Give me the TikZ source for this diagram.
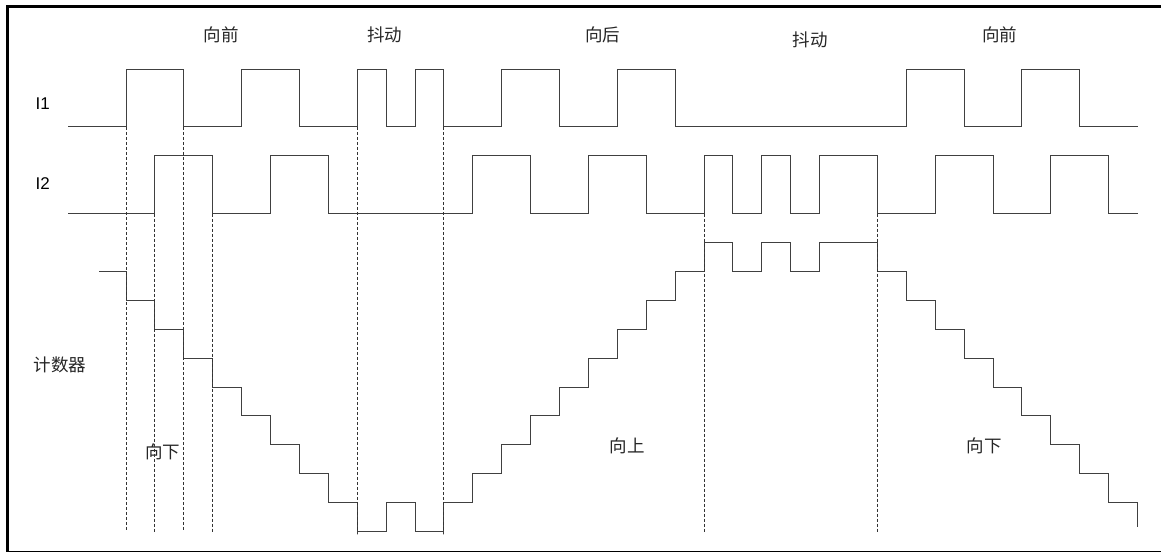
\documentclass[tikz,border=0pt]{standalone}
\usepackage{fontspec}
\setmainfont{Liberation Sans}
\newfontfamily\cjk{Noto Sans CJK SC}
\usepackage{tikz}
\usetikzlibrary{calc}

\tikzset{
  wave/.style = {line width=1pt, draw=black!75, line join=miter},
  guide/.style = {line width=0.9pt, draw=black!80, dash pattern=on 3pt off 2pt},
  sig/.style = {inner sep=0pt, anchor=west, font=\fontsize{17}{17}\selectfont},
  tag/.style = {inner sep=0pt, font=\cjk\fontsize{17.5}{18}\selectfont, text=black!85}
}

\begin{document}
\begin{tikzpicture}[x=28.9pt, y=28.9pt]
\useasboundingbox (-4.360,-14.706) rectangle (35.813,4.394);
    % Frame
\draw[line width=3pt] (36.2,4.170) -- (-4.100,4.170) -- (-4.100,-14.72) -- (36.2,-14.72);

\node[sig] (i1) at (-3.13,0.80) {I1};
\node[sig] (i2) at (-3.13,-1.97) {I2};
\node[tag] (cnt) at (-2.28,-8.24) {计数器};



\node[tag] (0) at (3.29,3.20) {向前};
\node[tag] (1) at (8.96,3.20) {抖动};
\node[tag] (2) at (16.50,3.18) {向后};
\node[tag] (3) at (23.67,3.03) {抖动};
\node[tag] (4) at (30.24,3.20) {向前};

\node[tag] (5) at (1.28,-11.25) {向下};
\node[tag] (6) at (17.34,-11.04) {向上};
\node[tag] (7) at (29.69,-11.04) {向下};



    % I1
\draw[wave] (-2,0) -- (0,0) -- (0,2) -- (2,2) -- (2,0) -- (4,0) -- (4,2) -- (6,2) -- (6,0)
  -- (8,0) -- (8,2) -- (9,2) -- (9,0) -- (10,0) -- (10,2) -- (11,2) -- (11,0)
  -- (13,0) -- (13,2) -- (15,2) -- (15,0) -- (17,0) -- (17,2) -- (19,2) -- (19,0)
  -- (27,0) -- (27,2) -- (29,2) -- (29,0) -- (31,0) -- (31,2) -- (33,2) -- (33,0) -- (35,0);

    % I2
\draw[wave] (-2,-3) -- (1,-3) -- (1,-1) -- (3,-1) -- (3,-3) -- (5,-3) -- (5,-1) -- (7,-1) -- (7,-3)
  -- (12,-3) -- (12,-1) -- (14,-1) -- (14,-3) -- (16,-3) -- (16,-1) -- (18,-1) -- (18,-3)
  -- (20,-3) -- (20,-1) -- (21,-1) -- (21,-3) -- (22,-3) -- (22,-1) -- (23,-1) -- (23,-3)
  -- (24,-3) -- (24,-1) -- (26,-1) -- (26,-3) -- (28,-3) -- (28,-1) -- (30,-1) -- (30,-3)
  -- (32,-3) -- (32,-1) -- (34,-1) -- (34,-3) -- (35,-3);

    % counter
\draw[wave] (-0.93,-5) -- (0,-5) -- (0,-6) -- (1,-6) -- (1,-7) -- (2,-7) -- (2,-8) -- (3,-8)
  -- (3,-9) -- (4,-9) -- (4,-10) -- (5,-10) -- (5,-11) -- (6,-11) -- (6,-12) -- (7,-12)
  -- (7,-13) -- (8,-13) -- (8,-14.1) -- (8,-14) -- (9,-14) -- (9,-13) -- (10,-13) -- (10,-14)
  -- (11,-14) -- (11,-14.1) -- (11,-13) -- (12,-13) -- (12,-12) -- (13,-12) -- (13,-11) -- (14,-11)
  -- (14,-10) -- (15,-10) -- (15,-9) -- (16,-9) -- (16,-8) -- (17,-8) -- (17,-7) -- (18,-7)
  -- (18,-6) -- (19,-6) -- (19,-5) -- (20,-5) -- (20,-4) -- (21,-4) -- (21,-5) -- (22,-5)
  -- (22,-4) -- (23,-4) -- (23,-5) -- (24,-5) -- (24,-4) -- (26,-4) -- (26,-5) -- (27,-5)
  -- (27,-6) -- (28,-6) -- (28,-7) -- (29,-7) -- (29,-8) -- (30,-8) -- (30,-9) -- (31,-9)
  -- (31,-10) -- (32,-10) -- (32,-11) -- (33,-11) -- (33,-12) -- (34,-12) -- (34,-13)
  -- (35,-13) -- (35,-13.84);



\draw[guide] (0,0) -- (0,-14);
\draw[guide] (2,0) -- (2,-14);
\draw[guide] (8,0) -- (8,-14);
\draw[guide] (11,0) -- (11,-14);

\draw[guide] (1,-3) -- (1,-14);
\draw[guide] (3,-3) -- (3,-14);
\draw[guide] (20,-3) -- (20,-14);
\draw[guide] (26,-3) -- (26,-14);

\end{tikzpicture}
\end{document}
